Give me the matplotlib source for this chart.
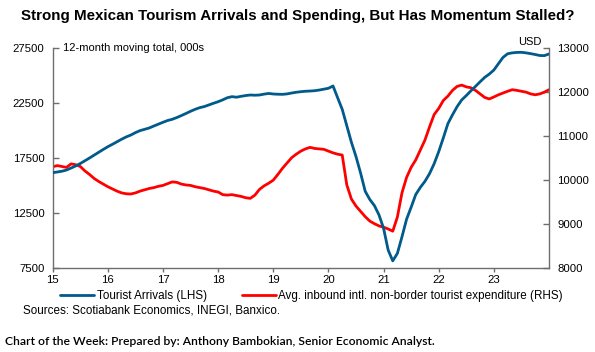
import matplotlib
matplotlib.use("Agg")
import matplotlib.pyplot as plt
import numpy as np

plt.rcParams['font.family'] = ['Liberation Sans', 'DejaVu Sans']

# Monthly, Jan 2015 .. Jan 2024
start_year = 2015
arrivals = [16140, 16200, 16270, 16380, 16560, 16750, 16970, 17220, 17470, 17730, 17990, 18250,
            18500, 18720, 18950, 19180, 19390, 19560, 19780, 19960, 20080, 20200, 20380, 20550,
            20720, 20880, 20990, 21150, 21330, 21520, 21720, 21900, 22050, 22150, 22300, 22450,
            22590, 22760, 22950, 23050, 23000, 23080, 23150, 23200, 23180, 23200, 23280, 23340,
            23290, 23270, 23260, 23300, 23380, 23450, 23500, 23540, 23560, 23590, 23650, 23730,
            23810, 24020, 22950, 21900, 20400, 18900, 17600, 16100, 14450, 13700, 13150, 12300,
            11080, 9100, 8120, 8800, 10300, 11900, 13000, 14150, 14800, 15350, 16050, 16950,
            18050, 19300, 20600, 21400, 22140, 22750, 23150, 23580, 23980, 24400, 24800, 25100,
            25470, 26050, 26620, 26950, 27030, 27070, 27080, 27030, 26960, 26880, 26790, 26780,
            26930]
expenditure = [10295, 10320, 10300, 10280, 10360, 10340, 10300, 10200, 10120, 10030, 9960, 9900,
               9840, 9790, 9740, 9700, 9680, 9675, 9700, 9740, 9770, 9800, 9820, 9850,
               9870, 9910, 9950, 9940, 9900, 9880, 9870, 9840, 9820, 9800, 9770, 9740,
               9720, 9660, 9650, 9660, 9640, 9620, 9590, 9575, 9650, 9780, 9860, 9920,
               9990, 10120, 10260, 10380, 10500, 10580, 10650, 10700, 10735, 10710, 10700, 10690,
               10650, 10610, 10580, 10560, 9880, 9560, 9400, 9280, 9160, 9060, 9000, 8950,
               8920, 8880, 8830, 9150, 9700, 10050, 10280, 10450, 10675, 10900, 11200, 11480,
               11620, 11800, 11900, 12030, 12120, 12150, 12110, 12090, 12030, 11950, 11870, 11835,
               11880, 11930, 11970, 12010, 12045, 12030, 12010, 11990, 11950, 11930, 11950, 11990,
               12045]
x_ticks = list(range(2015, 2024))
x_labels = ['15', '16', '17', '18', '19', '20', '21', '22', '23']
left_ticks = [7500, 12500, 17500, 22500, 27500]
right_ticks = [8000, 9000, 10000, 11000, 12000, 13000]

t = start_year + np.arange(len(arrivals)) / 12.0

BLUE = '#005a8a'
RED = '#ff0000'

fig = plt.figure(figsize=(5.95, 3.52), dpi=100)
ax = fig.add_axes([0.0886, 0.2395, 0.9227 - 0.0886, 0.8645 - 0.2395])
ax2 = ax.twinx()

l1, = ax.plot(t, arrivals, color=BLUE, lw=2.0, solid_capstyle='round', zorder=3)
l2, = ax2.plot(t, expenditure, color=RED, lw=2.0, solid_capstyle='round', zorder=2)
ax.set_zorder(ax2.get_zorder() + 1)
ax.patch.set_visible(False)

ax.set_xlim(t[0], t[-1])
ax.set_ylim(7500, 27500)
ax2.set_ylim(8000, 13000)
ax.set_xticks(x_ticks)
ax.set_xticklabels(x_labels)
ax.set_yticks(left_ticks)
ax.set_yticklabels([str(v) for v in left_ticks])
ax2.set_yticks(right_ticks)
ax2.set_yticklabels([str(v) for v in right_ticks])

for a in (ax, ax2):
    a.spines['top'].set_visible(False)
    for s in ('left', 'right', 'bottom'):
        a.spines[s].set_color('#6e6e6e')
        a.spines[s].set_linewidth(1.0)
ax.spines['right'].set_visible(False)
ax2.spines['left'].set_visible(False)
ax2.spines['bottom'].set_visible(False)

ax.tick_params(axis='y', direction='in', length=4, width=1, color='#6e6e6e', labelsize=8.2, pad=6)
ax2.tick_params(axis='y', direction='in', length=4, width=1, color='#6e6e6e', labelsize=8.2, pad=6)
ax.tick_params(axis='x', direction='out', length=3, width=1, color='#6e6e6e', labelsize=8.2, pad=2)

ax.text(0.02, 1.0, '12-month moving total, 000s', transform=ax.transAxes,
        fontsize=8, ha='left', va='center')
ax.text(0.985, 1.005, 'USD', transform=ax.transAxes, fontsize=8, ha='right', va='bottom')

fig.text(0.5, 0.955, 'Strong Mexican Tourism Arrivals and Spending, But Has Momentum Stalled?',
         fontsize=10.9, fontweight='bold', ha='center', va='center')

fig.legend([l1, l2], ['Tourist Arrivals (LHS)',
                      'Avg. inbound intl. non-border tourist expenditure (RHS)'],
           loc='center', bbox_to_anchor=(0.5235, 0.158), ncol=2, frameon=False,
           fontsize=8.4, handlelength=2.9, handletextpad=0.25, columnspacing=3.0,
           borderaxespad=0)

fig.text(0.039, 0.117, 'Sources: Scotiabank Economics, INEGI, Banxico.', fontsize=8.4,
         ha='left', va='center')
fig.text(0.008, 0.031, 'Chart of the Week: Prepared by: Anthony Bambokian, Senior Economic Analyst.',
         fontsize=8.7, fontweight='semibold', family=['Lato', 'DejaVu Sans'],
         ha='left', va='center')

fig.savefig('out.png', dpi=100)
